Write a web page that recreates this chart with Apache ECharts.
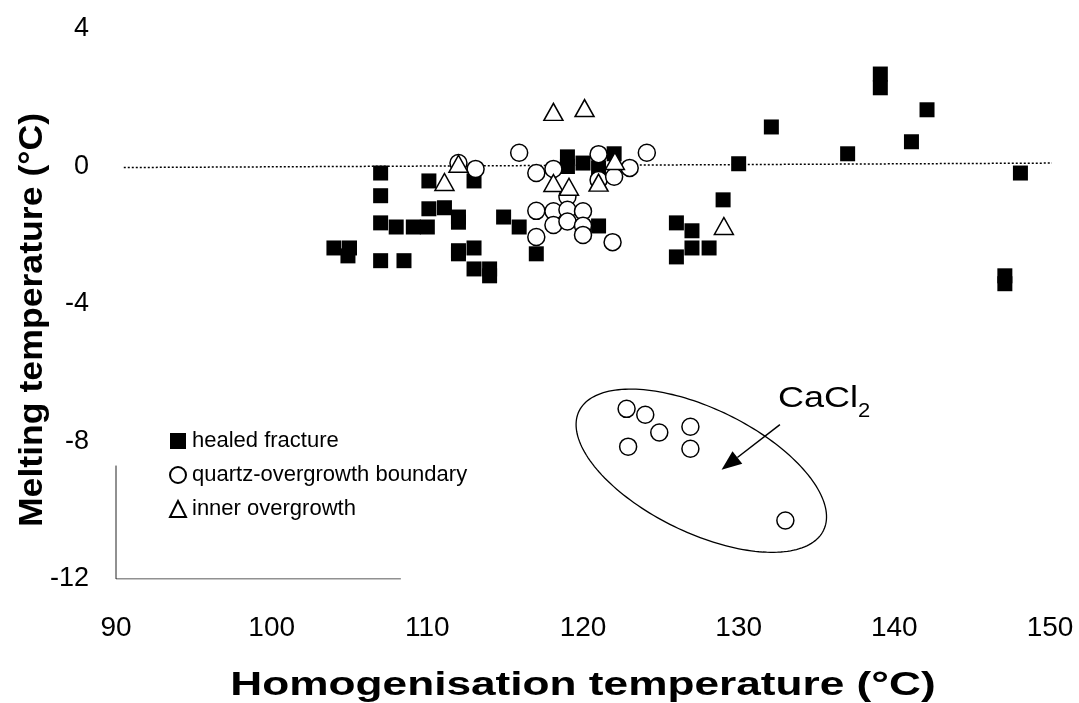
<!DOCTYPE html>
<html>
<head>
<meta charset="utf-8">
<script src="https://cdn.jsdelivr.net/npm/echarts@6/dist/echarts.min.js"></script>
<style>html,body{margin:0;padding:0;background:#fff;}#c{width:1079px;height:703px;}</style>
</head>
<body>
<div id="c"></div>
<script>
// ---- data ----
var xTicks = [90, 100, 110, 120, 130, 140, 150];
var yTicks = [-12, -8, -4, 0, 4];
var xTitle = 'Homogenisation temperature (°C)';
var yTitle = 'Melting temperature (°C)';

var healedFracture = [
  [104.0,-2.37],[105.0,-2.37],[104.9,-2.6],
  [107.0,-0.19],[107.0,-0.85],[107.0,-1.64],[107.0,-2.74],
  [108.0,-1.76],[108.5,-2.74],[109.1,-1.76],[110.0,-1.76],
  [110.1,-0.42],[110.1,-1.23],[111.1,-1.2],
  [112.0,-1.62],[112.0,-1.47],[112.0,-2.45],[112.0,-2.54],
  [113.0,-2.37],[113.0,-2.98],[113.0,-0.42],[114.0,-3.18],[114.0,-2.98],
  [114.9,-1.47],[115.9,-1.76],[117.0,-2.54],
  [119.0,0.28],[119.0,0.0],[120.0,0.1],[121.0,-0.04],[122.0,0.37],[121.0,-1.73],
  [126.0,-1.64],[127.0,-1.87],[127.0,-2.37],[128.1,-2.37],[126.0,-2.63],
  [129.0,-0.97],[130.0,0.08],[132.1,1.15],[137.0,0.37],
  [139.1,2.29],[139.1,2.69],[142.1,1.65],[141.1,0.72],
  [148.1,-0.19],[147.1,-3.41],[147.1,-3.18]
];

var quartzBoundary = [
  [112.0,0.1],[113.1,-0.07],[115.9,0.4],[117.0,-0.19],[117.0,-1.29],[117.0,-2.05],
  [118.1,-0.07],[118.1,-1.3],[118.1,-1.7],
  [119.0,-0.88],[119.0,-1.26],[119.0,-1.6],[120.0,-1.3],[120.0,-1.72],[120.0,-1.99],
  [121.0,0.36],[121.0,-0.39],[122.0,-0.3],[123.0,-0.04],[124.1,0.4],[121.9,-2.2],
  // CaCl2 group
  [122.8,-7.05],[124.0,-7.22],[124.9,-7.74],[126.9,-7.57],[122.9,-8.15],[126.9,-8.21],[133.0,-10.3]
];

var innerOvergrowth = [
  [111.1,-0.45],[112.0,0.08],[118.1,-0.48],[118.1,1.59],[120.1,1.7],
  [119.1,-0.59],[121.0,-0.47],[122.05,0.16],[129.05,-1.73]
];

var zeroLine = [[90.5,-0.03],[150.4,0.1]];
var axisFrame = [[90,-8.7],[90,-12],[108.3,-12]];

// annotation anchors (data coords)
var ellipseCenter = [127.6, -8.85];
var arrowStart = [132.65, -7.51];
var arrowTip = [128.9, -8.82];
var calloutText = 'CaCl';
var calloutSub = '2';

var chart = echarts.init(document.getElementById('c'), null, {renderer: 'canvas'});
var FONT = 'Liberation Sans, Arial, sans-serif';

chart.setOption({
  animation: false,
  backgroundColor: '#fff',
  grid: {left: 116, right: 29, top: 29, bottom: 124},
  xAxis: {
    type: 'value', min: 90, max: 150, interval: 10,
    axisLine: {show: false}, axisTick: {show: false}, splitLine: {show: false},
    axisLabel: {fontFamily: FONT, fontSize: 28, color: '#000', margin: 35}
  },
  yAxis: {
    type: 'value', min: -12, max: 4, interval: 4,
    axisLine: {show: false}, axisTick: {show: false}, splitLine: {show: false},
    axisLabel: {fontFamily: FONT, fontSize: 27, color: '#000', margin: 27}
  },
  legend: {
    orient: 'vertical', left: 164, top: 425, itemGap: 12,
    itemWidth: 16, itemHeight: 16,
    data: ['healed fracture', 'quartz-overgrowth boundary', 'inner overgrowth'],
    textStyle: {fontFamily: FONT, fontSize: 22, color: '#000', padding: [0,0,0,1]}
  },
  series: [
    {type: 'line', data: axisFrame, symbol: 'none', silent: true,
     lineStyle: {color: '#222', width: 1}, z: 1},
    {type: 'line', data: zeroLine, symbol: 'none', silent: true,
     lineStyle: {color: '#000', width: 1.5, type: [2, 2]}, z: 1},
    {name: 'healed fracture', type: 'scatter', data: healedFracture, symbol: 'rect', symbolSize: 15,
     itemStyle: {color: '#000', opacity: 1}, z: 2},
    {name: 'quartz-overgrowth boundary', type: 'scatter', data: quartzBoundary, symbol: 'circle', symbolSize: 17,
     itemStyle: {color: '#fff', borderColor: '#000', borderWidth: 1.5, opacity: 1}, z: 3},
    {name: 'inner overgrowth', type: 'scatter', data: innerOvergrowth, symbol: 'triangle', symbolSize: [19, 17],
     itemStyle: {color: '#fff', borderColor: '#000', borderWidth: 1.5, opacity: 1}, z: 4}
  ]
});

function drawAnnotations() {
  var c = chart.convertToPixel({gridIndex: 0}, ellipseCenter);
  var a = 136, b = 62, ang = 26 * Math.PI / 180;
  var pts = [];
  for (var i = 0; i < 180; i++) {
    var t = i / 180 * 2 * Math.PI;
    var ex = a * Math.cos(t), ey = b * Math.sin(t);
    pts.push([c[0] + ex * Math.cos(ang) - ey * Math.sin(ang), c[1] + ex * Math.sin(ang) + ey * Math.cos(ang)]);
  }
  var s = chart.convertToPixel({gridIndex: 0}, arrowStart);
  var e = chart.convertToPixel({gridIndex: 0}, arrowTip);
  var dx = e[0] - s[0], dy = e[1] - s[1], L = Math.sqrt(dx * dx + dy * dy);
  var ux = dx / L, uy = dy / L, hl = 20, hw = 8;
  var bx = e[0] - ux * hl, by = e[1] - uy * hl;
  var gl = chart.convertToPixel({gridIndex: 0}, [90, -12]);
  var gr = chart.convertToPixel({gridIndex: 0}, [150, 4]);
  chart.setOption({
    graphic: [
      {type: 'polygon', shape: {points: pts}, style: {fill: 'none', stroke: '#000', lineWidth: 1.3}, z: 10},
      {type: 'line', shape: {x1: s[0], y1: s[1], x2: bx, y2: by}, style: {stroke: '#000', lineWidth: 1.5}, z: 10},
      {type: 'polygon', shape: {points: [[e[0], e[1]], [bx - uy * hw, by + ux * hw], [bx + uy * hw, by - ux * hw]]},
       style: {fill: '#000'}, z: 10},
      {type: 'text', x: 778, y: 414, scaleX: 1.2, style: {text: calloutText, font: '30px ' + FONT, fill: '#000', verticalAlign: 'bottom'}, z: 10},
      {type: 'text', x: 858, y: 421, scaleX: 1.1, style: {text: calloutSub, font: '20px ' + FONT, fill: '#000', verticalAlign: 'bottom'}, z: 10},
      {type: 'text', x: (gl[0] + gr[0]) / 2, y: 686, scaleX: 1.3,
       style: {text: xTitle, font: 'bold 34px ' + FONT, fill: '#000', align: 'center', verticalAlign: 'middle'}, z: 10},
      {type: 'text', x: 33, y: (gl[1] + gr[1]) / 2 + 16, rotation: Math.PI / 2, scaleX: 1.08,
       style: {text: yTitle, font: 'bold 33px ' + FONT, fill: '#000', align: 'center', verticalAlign: 'middle'}, z: 10}
    ]
  });
}
drawAnnotations();
</script>
</body>
</html>
